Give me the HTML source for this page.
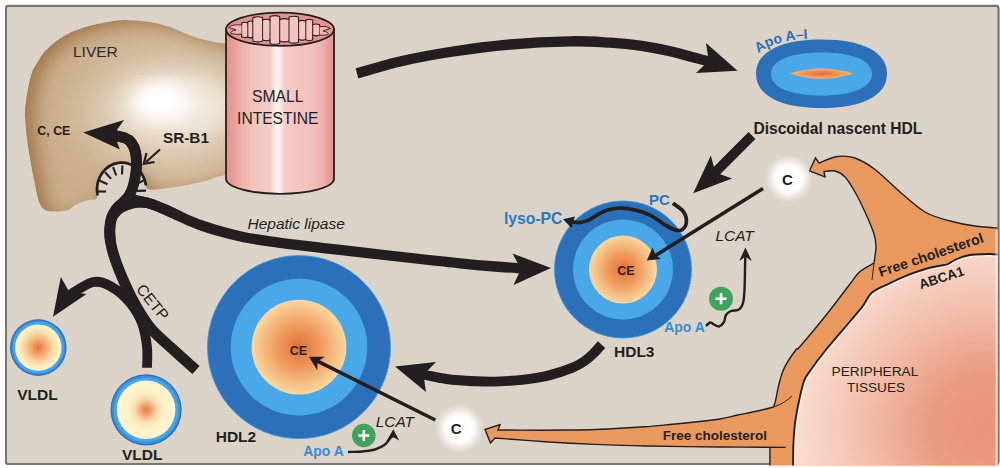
<!DOCTYPE html>
<html><head><meta charset="utf-8"><title>HDL metabolism</title>
<style>
html,body{margin:0;padding:0;background:#fff;}
svg{display:block;}
text{font-family:"Liberation Sans",sans-serif;}
.b{font-weight:bold;}
.i{font-style:italic;}
</style></head><body>
<svg width="1000" height="468" viewBox="0 0 1000 468">
<defs>
<radialGradient id="core" cx="50%" cy="50%" r="50%">
<stop offset="0" stop-color="#e2703a"/><stop offset="0.45" stop-color="#ee9a5c"/><stop offset="1" stop-color="#fbd7a0"/>
</radialGradient>
<radialGradient id="vcore" cx="50%" cy="50%" r="50%">
<stop offset="0" stop-color="#e8793c"/><stop offset="0.16" stop-color="#f0a06a"/><stop offset="0.4" stop-color="#fadcae"/><stop offset="0.62" stop-color="#fdf1c8"/><stop offset="1" stop-color="#fdf6d0"/>
</radialGradient>
<radialGradient id="vcore1" cx="50%" cy="50%" r="50%">
<stop offset="0" stop-color="#e8753a"/><stop offset="0.3" stop-color="#f2a46c"/><stop offset="0.6" stop-color="#f9d3a0"/><stop offset="0.85" stop-color="#fdeec2"/><stop offset="1" stop-color="#fdf3c8"/>
</radialGradient>
<radialGradient id="lens" cx="50%" cy="50%" r="50%">
<stop offset="0" stop-color="#e4683a"/><stop offset="1" stop-color="#f7b575"/>
</radialGradient>
<radialGradient id="glow" cx="50%" cy="50%" r="50%">
<stop offset="0" stop-color="#fff"/><stop offset="0.48" stop-color="#fff"/><stop offset="0.62" stop-color="#fff" stop-opacity="0.85"/><stop offset="0.8" stop-color="#fff" stop-opacity="0.4"/><stop offset="1" stop-color="#fff" stop-opacity="0"/>
</radialGradient>
<linearGradient id="cyl" x1="0" x2="1" y1="0" y2="0">
<stop offset="0" stop-color="#e68f8d"/><stop offset="0.06" stop-color="#e99a97"/><stop offset="0.17" stop-color="#f0b6b0"/><stop offset="0.25" stop-color="#f3c2bc"/>
<stop offset="0.41" stop-color="#f5cbc6"/><stop offset="0.45" stop-color="#fbe9e5"/><stop offset="0.475" stop-color="#fffaf8"/><stop offset="0.5" stop-color="#fbe9e5"/>
<stop offset="0.55" stop-color="#f5cbc6"/><stop offset="0.8" stop-color="#f2c0ba"/><stop offset="0.9" stop-color="#efb0ab"/><stop offset="1" stop-color="#e68f8d"/>
</linearGradient>
<radialGradient id="tissue" cx="985" cy="428" r="222" gradientUnits="userSpaceOnUse">
<stop offset="0" stop-color="#e8957a"/><stop offset="0.25" stop-color="#ea9c82"/><stop offset="0.55" stop-color="#f2bfac"/><stop offset="0.85" stop-color="#f9ddd1"/><stop offset="1" stop-color="#fbe7de"/>
</radialGradient>
<linearGradient id="fade" x1="0" x2="1" y1="0" y2="0"><stop offset="0" stop-color="#fff" stop-opacity="0"/><stop offset="1" stop-color="#fff" stop-opacity="0.75"/></linearGradient>
<clipPath id="orclip"><rect x="6" y="6" width="991.7" height="459.6"/></clipPath>
<filter id="blur8" x="-20%" y="-20%" width="140%" height="140%"><feGaussianBlur stdDeviation="9"/></filter>
<filter id="blur12" x="-50%" y="-50%" width="200%" height="200%"><feGaussianBlur stdDeviation="11"/></filter>
<filter id="blur6" x="-20%" y="-20%" width="140%" height="140%"><feGaussianBlur stdDeviation="6"/></filter>
<filter id="blur20" x="-50%" y="-50%" width="200%" height="200%"><feGaussianBlur stdDeviation="20"/></filter>
<filter id="blur5" x="-50%" y="-50%" width="200%" height="200%"><feGaussianBlur stdDeviation="5"/></filter>
<clipPath id="panelclip"><rect x="6" y="5.9" width="992.4" height="458" rx="2.5"/></clipPath>

<clipPath id="liverclip"><path d="M25.0,117.0 C24.8,110.3 25.0,107.0 26.0,100.0 C27.0,93.0 29.1,81.3 31.0,75.0 C32.9,68.7 35.0,66.2 37.5,62.0 C40.0,57.8 41.9,54.2 46.0,50.0 C50.1,45.8 56.0,40.7 62.0,37.0 C68.0,33.3 74.5,30.5 82.0,28.0 C89.5,25.5 99.8,23.3 107.0,22.0 C114.2,20.7 117.8,20.0 125.0,20.0 C132.2,20.0 142.5,20.8 150.0,22.0 C157.5,23.2 163.8,25.0 170.0,27.0 C176.2,29.0 181.2,31.8 187.0,34.0 C192.8,36.2 198.7,38.4 205.0,40.0 C211.3,41.6 218.3,42.7 225.0,43.5 C231.7,44.3 240.8,35.6 245.0,45.0 C249.2,54.4 249.3,80.8 250.0,100.0 C250.7,119.2 250.3,148.0 249.0,160.0 C247.7,172.0 245.5,169.6 242.0,172.0 C238.5,174.4 232.5,173.4 228.0,174.3 C223.5,175.2 218.8,176.4 215.0,177.5 C211.2,178.6 211.7,179.4 205.0,181.0 C198.3,182.6 184.8,185.7 175.0,187.0 C165.2,188.3 151.2,191.0 146.0,189.0 C140.8,187.0 146.3,179.0 144.0,175.0 C141.7,171.0 136.0,167.0 132.0,165.0 C128.0,163.0 124.3,162.5 120.0,163.0 C115.7,163.5 109.8,164.8 106.0,168.0 C102.2,171.2 98.5,177.0 97.0,182.0 C95.5,187.0 98.5,195.0 97.0,198.0 C95.5,201.0 91.7,198.8 88.0,200.0 C84.3,201.2 78.3,203.3 75.0,205.0 C71.7,206.7 71.3,208.9 68.0,210.0 C64.7,211.1 58.8,211.5 55.0,211.5 C51.2,211.5 47.7,211.6 45.0,210.0 C42.3,208.4 40.7,206.2 39.0,202.0 C37.3,197.8 36.3,191.2 35.0,185.0 C33.7,178.8 32.3,172.5 31.0,165.0 C29.7,157.5 28.0,148.0 27.0,140.0 C26.0,132.0 25.2,123.7 25.0,117.0Z"/></clipPath>
</defs>
<rect x="5" y="4.8" width="994.4" height="460.1" rx="3.2" fill="#7a7672"/>
<rect x="7" y="6.9" width="991" height="456.8" rx="1.6" fill="#dbd3c8"/>
<clipPath id="liverclip"><path d="M25.0,117.0 C24.8,110.3 25.0,107.0 26.0,100.0 C27.0,93.0 29.1,81.3 31.0,75.0 C32.9,68.7 35.0,66.2 37.5,62.0 C40.0,57.8 41.9,54.2 46.0,50.0 C50.1,45.8 56.0,40.7 62.0,37.0 C68.0,33.3 74.5,30.5 82.0,28.0 C89.5,25.5 99.8,23.3 107.0,22.0 C114.2,20.7 117.8,20.0 125.0,20.0 C132.2,20.0 142.5,20.8 150.0,22.0 C157.5,23.2 163.8,25.0 170.0,27.0 C176.2,29.0 181.2,31.8 187.0,34.0 C192.8,36.2 198.7,38.4 205.0,40.0 C211.3,41.6 218.3,42.7 225.0,43.5 C231.7,44.3 240.8,35.6 245.0,45.0 C249.2,54.4 249.3,80.8 250.0,100.0 C250.7,119.2 250.3,148.0 249.0,160.0 C247.7,172.0 245.5,169.6 242.0,172.0 C238.5,174.4 232.5,173.4 228.0,174.3 C223.5,175.2 218.8,176.4 215.0,177.5 C211.2,178.6 211.7,179.4 205.0,181.0 C198.3,182.6 184.8,185.7 175.0,187.0 C165.2,188.3 151.2,191.0 146.0,189.0 C140.8,187.0 146.3,179.0 144.0,175.0 C141.7,171.0 136.0,167.0 132.0,165.0 C128.0,163.0 124.3,162.5 120.0,163.0 C115.7,163.5 109.8,164.8 106.0,168.0 C102.2,171.2 98.5,177.0 97.0,182.0 C95.5,187.0 98.5,195.0 97.0,198.0 C95.5,201.0 91.7,198.8 88.0,200.0 C84.3,201.2 78.3,203.3 75.0,205.0 C71.7,206.7 71.3,208.9 68.0,210.0 C64.7,211.1 58.8,211.5 55.0,211.5 C51.2,211.5 47.7,211.6 45.0,210.0 C42.3,208.4 40.7,206.2 39.0,202.0 C37.3,197.8 36.3,191.2 35.0,185.0 C33.7,178.8 32.3,172.5 31.0,165.0 C29.7,157.5 28.0,148.0 27.0,140.0 C26.0,132.0 25.2,123.7 25.0,117.0Z"/></clipPath>
</defs>
<rect x="6" y="5.9" width="992.4" height="458" rx="2.5" fill="#dbd3c8" stroke="#7a7672" stroke-width="2"/>
<g clip-path="url(#liverclip)">
<path d="M25.0,117.0 C24.8,110.3 25.0,107.0 26.0,100.0 C27.0,93.0 29.1,81.3 31.0,75.0 C32.9,68.7 35.0,66.2 37.5,62.0 C40.0,57.8 41.9,54.2 46.0,50.0 C50.1,45.8 56.0,40.7 62.0,37.0 C68.0,33.3 74.5,30.5 82.0,28.0 C89.5,25.5 99.8,23.3 107.0,22.0 C114.2,20.7 117.8,20.0 125.0,20.0 C132.2,20.0 142.5,20.8 150.0,22.0 C157.5,23.2 163.8,25.0 170.0,27.0 C176.2,29.0 181.2,31.8 187.0,34.0 C192.8,36.2 198.7,38.4 205.0,40.0 C211.3,41.6 218.3,42.7 225.0,43.5 C231.7,44.3 240.8,35.6 245.0,45.0 C249.2,54.4 249.3,80.8 250.0,100.0 C250.7,119.2 250.3,148.0 249.0,160.0 C247.7,172.0 245.5,169.6 242.0,172.0 C238.5,174.4 232.5,173.4 228.0,174.3 C223.5,175.2 218.8,176.4 215.0,177.5 C211.2,178.6 211.7,179.4 205.0,181.0 C198.3,182.6 184.8,185.7 175.0,187.0 C165.2,188.3 151.2,191.0 146.0,189.0 C140.8,187.0 146.3,179.0 144.0,175.0 C141.7,171.0 136.0,167.0 132.0,165.0 C128.0,163.0 124.3,162.5 120.0,163.0 C115.7,163.5 109.8,164.8 106.0,168.0 C102.2,171.2 98.5,177.0 97.0,182.0 C95.5,187.0 98.5,195.0 97.0,198.0 C95.5,201.0 91.7,198.8 88.0,200.0 C84.3,201.2 78.3,203.3 75.0,205.0 C71.7,206.7 71.3,208.9 68.0,210.0 C64.7,211.1 58.8,211.5 55.0,211.5 C51.2,211.5 47.7,211.6 45.0,210.0 C42.3,208.4 40.7,206.2 39.0,202.0 C37.3,197.8 36.3,191.2 35.0,185.0 C33.7,178.8 32.3,172.5 31.0,165.0 C29.7,157.5 28.0,148.0 27.0,140.0 C26.0,132.0 25.2,123.7 25.0,117.0Z" fill="#a2764a"/>
<path d="M25.0,117.0 C24.8,110.3 25.0,107.0 26.0,100.0 C27.0,93.0 29.1,81.3 31.0,75.0 C32.9,68.7 35.0,66.2 37.5,62.0 C40.0,57.8 41.9,54.2 46.0,50.0 C50.1,45.8 56.0,40.7 62.0,37.0 C68.0,33.3 74.5,30.5 82.0,28.0 C89.5,25.5 99.8,23.3 107.0,22.0 C114.2,20.7 117.8,20.0 125.0,20.0 C132.2,20.0 142.5,20.8 150.0,22.0 C157.5,23.2 163.8,25.0 170.0,27.0 C176.2,29.0 181.2,31.8 187.0,34.0 C192.8,36.2 198.7,38.4 205.0,40.0 C211.3,41.6 218.3,42.7 225.0,43.5 C231.7,44.3 240.8,35.6 245.0,45.0 C249.2,54.4 249.3,80.8 250.0,100.0 C250.7,119.2 250.3,148.0 249.0,160.0 C247.7,172.0 245.5,169.6 242.0,172.0 C238.5,174.4 232.5,173.4 228.0,174.3 C223.5,175.2 218.8,176.4 215.0,177.5 C211.2,178.6 211.7,179.4 205.0,181.0 C198.3,182.6 184.8,185.7 175.0,187.0 C165.2,188.3 151.2,191.0 146.0,189.0 C140.8,187.0 146.3,179.0 144.0,175.0 C141.7,171.0 136.0,167.0 132.0,165.0 C128.0,163.0 124.3,162.5 120.0,163.0 C115.7,163.5 109.8,164.8 106.0,168.0 C102.2,171.2 98.5,177.0 97.0,182.0 C95.5,187.0 98.5,195.0 97.0,198.0 C95.5,201.0 91.7,198.8 88.0,200.0 C84.3,201.2 78.3,203.3 75.0,205.0 C71.7,206.7 71.3,208.9 68.0,210.0 C64.7,211.1 58.8,211.5 55.0,211.5 C51.2,211.5 47.7,211.6 45.0,210.0 C42.3,208.4 40.7,206.2 39.0,202.0 C37.3,197.8 36.3,191.2 35.0,185.0 C33.7,178.8 32.3,172.5 31.0,165.0 C29.7,157.5 28.0,148.0 27.0,140.0 C26.0,132.0 25.2,123.7 25.0,117.0Z" fill="#c9ae8a" filter="url(#blur8)" transform="translate(9,4)"/>
<ellipse cx="168" cy="112" rx="86" ry="58" fill="#e0d0ba" filter="url(#blur20)"/>
<ellipse cx="176" cy="106" rx="56" ry="32" fill="#f1e8dc" filter="url(#blur12)"/>
<ellipse cx="162" cy="102" rx="29" ry="19" fill="#ffffff" filter="url(#blur8)"/>
<ellipse cx="156" cy="100" rx="14" ry="10" fill="#ffffff" filter="url(#blur5)"/>
</g>
<g clip-path="url(#orclip)">
<path d="M819.0,163.0 C822.1,161.9 831.5,157.3 837.5,156.5 C843.5,155.7 848.8,155.8 855.0,158.0 C861.2,160.2 867.5,163.8 875.0,169.5 C882.5,175.2 891.7,184.9 900.0,192.0 C908.3,199.1 916.7,207.2 925.0,212.0 C933.3,216.8 941.7,218.7 950.0,221.0 C958.3,223.3 966.2,224.8 975.0,226.0 C983.8,227.2 998.3,228.1 1003.0,228.5 L1003,470 L770,470 C770.0,466.2 769.8,454.1 770.0,447.4 C770.2,440.7 770.4,436.7 771.0,430.0 C771.6,423.3 773.0,411.9 773.8,407.0 C774.6,402.1 774.7,404.4 775.6,400.4 C776.5,396.3 777.8,388.2 779.3,382.7 C780.8,377.2 781.7,373.1 784.4,367.6 C787.1,362.2 793.1,353.5 795.7,350.0 C798.3,346.5 795.1,352.1 800.0,346.5 C804.9,340.9 816.7,326.9 825.0,316.5 C833.3,306.1 844.2,291.5 850.0,284.0 C855.8,276.5 856.0,275.0 860.0,271.5 C864.0,268.0 871.7,264.4 874.0,263.0 C874.3,260.2 876.0,251.3 876.0,246.5 C876.0,241.7 875.8,239.8 874.0,234.0 C872.2,228.2 868.2,219.0 865.0,212.0 C861.8,205.0 858.3,197.8 855.0,192.0 C851.7,186.2 848.3,180.5 845.0,177.0 C841.7,173.5 838.5,171.9 835.0,171.0 C831.5,170.1 825.8,171.4 824.0,171.5 L825,177 L809.5,170.8 L815.5,158 Z" fill="#e9995d" stroke="#231f20" stroke-width="1.4" stroke-linejoin="miter"/>
<path d="M773.8,407 C772.0,407.4 766.9,408.8 763.0,409.7 C759.1,410.6 754.6,411.6 750.4,412.5 C746.2,413.4 742.9,413.9 737.8,415.0 C732.7,416.1 727.1,417.8 720.0,419.0 C712.9,420.2 703.3,421.1 695.0,422.0 C686.7,422.9 678.3,423.7 670.0,424.5 C661.7,425.3 653.3,426.2 645.0,426.8 C636.7,427.4 628.3,427.9 620.0,428.3 C611.7,428.8 603.3,429.2 595.0,429.5 C586.7,429.8 579.2,429.9 570.0,430.0 C560.8,430.1 552.0,430.2 540.0,430.2 C528.0,430.2 505.0,430.0 498.0,430.0 L500,424.5 L485,429.5 L490.5,443 L495,438 C503.3,438.6 528.3,440.6 545.0,441.7 C561.7,442.8 578.3,443.7 595.0,444.4 C611.7,445.1 624.2,445.6 645.0,446.0 C665.8,446.4 696.6,446.8 720.0,447.0 C743.4,447.2 774.7,447.3 785.6,447.4 L800,447.4 L800,395 Z" fill="#e9995d"/>
<path d="M773.8,407 C772.0,407.4 766.9,408.8 763.0,409.7 C759.1,410.6 754.6,411.6 750.4,412.5 C746.2,413.4 742.9,413.9 737.8,415.0 C732.7,416.1 727.1,417.8 720.0,419.0 C712.9,420.2 703.3,421.1 695.0,422.0 C686.7,422.9 678.3,423.7 670.0,424.5 C661.7,425.3 653.3,426.2 645.0,426.8 C636.7,427.4 628.3,427.9 620.0,428.3 C611.7,428.8 603.3,429.2 595.0,429.5 C586.7,429.8 579.2,429.9 570.0,430.0 C560.8,430.1 552.0,430.2 540.0,430.2 C528.0,430.2 505.0,430.0 498.0,430.0 L500,424.5 L485,429.5 L490.5,443 L495,438 C503.3,438.6 528.3,440.6 545.0,441.7 C561.7,442.8 578.3,443.7 595.0,444.4 C611.7,445.1 624.2,445.6 645.0,446.0 C665.8,446.4 696.6,446.8 720.0,447.0 C743.4,447.2 774.7,447.3 785.6,447.4" fill="none" stroke="#231f20" stroke-width="1.4" stroke-linejoin="miter"/>
<path d="M874,263 Q873,272 872,280" stroke="#231f20" stroke-width="1" fill="none"/>
<path d="M773.8,407 Q786,402.5 792,395.8" stroke="#231f20" stroke-width="1" fill="none"/>
<clipPath id="tclip"><path d="M1003.0,255.0 C1000.8,254.8 994.7,254.1 990.0,254.0 C985.3,253.9 979.1,254.2 975.0,254.5 C970.9,254.8 968.6,255.2 965.4,256.0 C962.2,256.8 958.7,258.2 955.8,259.5 C952.9,260.8 950.6,262.9 948.0,264.0 C945.4,265.1 943.5,265.1 940.0,265.8 C936.5,266.6 932.3,266.9 926.9,268.5 C921.5,270.1 914.1,272.6 907.7,275.2 C901.3,277.8 894.5,280.9 888.5,283.8 C882.5,286.7 876.3,288.7 872.0,292.5 C867.7,296.3 866.2,301.7 862.5,306.5 C858.8,311.3 856.2,314.1 850.0,321.5 C843.8,328.9 831.7,342.8 825.0,351.0 C818.3,359.2 813.5,366.0 810.0,371.0 C806.5,376.0 805.8,376.0 804.0,381.0 C802.2,386.0 800.5,393.9 799.0,401.0 C797.5,408.1 796.0,415.8 795.0,423.5 C794.0,431.2 793.6,439.2 793.3,447.0 C793.0,454.8 793.2,466.2 793.2,470.0 L1003,470 Z"/></clipPath>
<path d="M1003.0,255.0 C1000.8,254.8 994.7,254.1 990.0,254.0 C985.3,253.9 979.1,254.2 975.0,254.5 C970.9,254.8 968.6,255.2 965.4,256.0 C962.2,256.8 958.7,258.2 955.8,259.5 C952.9,260.8 950.6,262.9 948.0,264.0 C945.4,265.1 943.5,265.1 940.0,265.8 C936.5,266.6 932.3,266.9 926.9,268.5 C921.5,270.1 914.1,272.6 907.7,275.2 C901.3,277.8 894.5,280.9 888.5,283.8 C882.5,286.7 876.3,288.7 872.0,292.5 C867.7,296.3 866.2,301.7 862.5,306.5 C858.8,311.3 856.2,314.1 850.0,321.5 C843.8,328.9 831.7,342.8 825.0,351.0 C818.3,359.2 813.5,366.0 810.0,371.0 C806.5,376.0 805.8,376.0 804.0,381.0 C802.2,386.0 800.5,393.9 799.0,401.0 C797.5,408.1 796.0,415.8 795.0,423.5 C794.0,431.2 793.6,439.2 793.3,447.0 C793.0,454.8 793.2,466.2 793.2,470.0 L1003,470 Z" fill="url(#tissue)"/>
<path d="M1003.0,255.0 C1000.8,254.8 994.7,254.1 990.0,254.0 C985.3,253.9 979.1,254.2 975.0,254.5 C970.9,254.8 968.6,255.2 965.4,256.0 C962.2,256.8 958.7,258.2 955.8,259.5 C952.9,260.8 950.6,262.9 948.0,264.0 C945.4,265.1 943.5,265.1 940.0,265.8 C936.5,266.6 932.3,266.9 926.9,268.5 C921.5,270.1 914.1,272.6 907.7,275.2 C901.3,277.8 894.5,280.9 888.5,283.8 C882.5,286.7 876.3,288.7 872.0,292.5 C867.7,296.3 866.2,301.7 862.5,306.5 C858.8,311.3 856.2,314.1 850.0,321.5 C843.8,328.9 831.7,342.8 825.0,351.0 C818.3,359.2 813.5,366.0 810.0,371.0 C806.5,376.0 805.8,376.0 804.0,381.0 C802.2,386.0 800.5,393.9 799.0,401.0 C797.5,408.1 796.0,415.8 795.0,423.5 C794.0,431.2 793.6,439.2 793.3,447.0 C793.0,454.8 793.2,466.2 793.2,470.0 L1003,470 Z" fill="none" stroke="#fff" stroke-opacity="0.55" stroke-width="5" clip-path="url(#tclip)"/>
<path d="M1003.0,255.0 C1000.8,254.8 994.7,254.1 990.0,254.0 C985.3,253.9 979.1,254.2 975.0,254.5 C970.9,254.8 968.6,255.2 965.4,256.0 C962.2,256.8 958.7,258.2 955.8,259.5 C952.9,260.8 950.6,262.9 948.0,264.0 C945.4,265.1 943.5,265.1 940.0,265.8 C936.5,266.6 932.3,266.9 926.9,268.5 C921.5,270.1 914.1,272.6 907.7,275.2 C901.3,277.8 894.5,280.9 888.5,283.8 C882.5,286.7 876.3,288.7 872.0,292.5 C867.7,296.3 866.2,301.7 862.5,306.5 C858.8,311.3 856.2,314.1 850.0,321.5 C843.8,328.9 831.7,342.8 825.0,351.0 C818.3,359.2 813.5,366.0 810.0,371.0 C806.5,376.0 805.8,376.0 804.0,381.0 C802.2,386.0 800.5,393.9 799.0,401.0 C797.5,408.1 796.0,415.8 795.0,423.5 C794.0,431.2 793.6,439.2 793.3,447.0 C793.0,454.8 793.2,466.2 793.2,470.0 L1003,470 Z" fill="none" stroke="#231f20" stroke-width="1.9"/>
<rect x="994.3" y="229.5" width="3.4" height="240" fill="url(#fade)"/>
</g>
<g>
<path d="M226,29.5 L226,178.8 A54,15 0 0 0 334,178.8 L334,29.5 Z" fill="url(#cyl)" stroke="#231f20" stroke-width="1.8"/>
<ellipse cx="280" cy="29.3" rx="54" ry="16.6" fill="#e8918e" stroke="#231f20" stroke-width="1.8"/>
<path d="M241.6,36.8 L241.6,23 L241.6,23 Q244.7,21.4 247.8,23 L247.8,21.8 Q250.3,20.2 252.8,21.8 L252.8,17.6 Q257.7,16 262.6,17.6 L262.6,20 Q266.3,18.4 270,20 L270,16.4 Q274.85,14.8 279.7,16.4 L279.7,19.4 Q284.35,17.8 289,19.4 L289,17 Q293.8,15.4 298.6,17 L298.6,21.2 Q302.2,19.6 305.8,21.2 L305.8,20 Q309.25,18.4 312.7,20 L312.7,24.8 Q316.15,23.2 319.6,24.8 L319.6,35 Q316.15,36.8 312.7,35 L312.7,39.8 Q309.25,41.6 305.8,39.8 L305.8,39.2 Q302.2,41 298.6,39.2 L298.6,42.2 Q293.8,44 289,42.2 L289,41 Q284.35,42.8 279.7,41 L279.7,43.4 Q274.85,45.2 270,43.4 L270,39.8 Q266.3,41.6 262.6,39.8 L262.6,41 Q257.7,42.8 252.8,41 L252.8,37 Q250.3,38.8 247.8,37 L247.8,36.8 Q244.7,38.6 241.6,36.8 Z" fill="#f4c3bd" stroke="#231f20" stroke-width="1.1" stroke-linejoin="round"/>
<path d="M247.8,23 L247.8,36.8" stroke="#231f20" stroke-width="1" fill="none"/>
<path d="M252.8,21.8 L252.8,37" stroke="#231f20" stroke-width="1" fill="none"/>
<path d="M262.6,20 L262.6,39.8" stroke="#231f20" stroke-width="1" fill="none"/>
<path d="M270,20 L270,39.8" stroke="#231f20" stroke-width="1" fill="none"/>
<path d="M279.7,19.4 L279.7,41" stroke="#231f20" stroke-width="1" fill="none"/>
<path d="M289,19.4 L289,41" stroke="#231f20" stroke-width="1" fill="none"/>
<path d="M298.6,21.2 L298.6,39.2" stroke="#231f20" stroke-width="1" fill="none"/>
<path d="M305.8,21.2 L305.8,39.2" stroke="#231f20" stroke-width="1" fill="none"/>
<path d="M312.7,24.8 L312.7,35" stroke="#231f20" stroke-width="1" fill="none"/>
<path d="M241.6,25 Q232,24 228.5,27.5 Q234,29 236,30 Q230,31 231,33.5 Q236,35 241.6,34" fill="#f0b3ae" stroke="#231f20" stroke-width="0.9"/>
<path d="M319.6,26.5 Q327,25.5 330.5,28.5 Q325,30 323,31 Q329,32 328,34.5 Q324,36 319.6,35" fill="#f0b3ae" stroke="#231f20" stroke-width="0.9"/>
</g>
<path d="M357.0,73.5 C364.2,71.5 384.5,65.1 400.0,61.5 C415.5,57.9 431.7,54.8 450.0,52.0 C468.3,49.2 490.0,46.3 510.0,44.5 C530.0,42.7 553.3,41.6 570.0,41.3 C586.7,41.0 598.3,42.0 610.0,42.7 C621.7,43.4 630.0,44.2 640.0,45.6 C650.0,47.0 660.8,49.2 670.0,51.2 C679.2,53.2 687.4,55.8 695.0,57.8 C702.6,59.8 712.3,62.3 715.8,63.2" fill="none" stroke="#231f20" stroke-width="10.3" stroke-linecap="butt" stroke-linejoin="round"/>
<path d="M737.5,70.8 L706.0,43.0 L708.7,60.7 L696.0,73.0 Z" fill="#231f20"/>
<path d="M752.0,135.5 C745.0,142.5 717.0,170.6 710.0,177.6" fill="none" stroke="#231f20" stroke-width="9.7" stroke-linecap="butt" stroke-linejoin="round"/>
<path d="M693.2,193.3 L710.8,155.6 L715.5,172.6 L732.0,178.5 Z" fill="#231f20"/>
<path d="M196.0,370.0 C192.0,366.4 179.5,355.4 172.0,348.5 C164.5,341.6 157.1,335.8 151.0,328.5 C144.9,321.2 139.8,312.4 135.5,305.0 C131.2,297.6 128.4,291.7 125.0,284.0 C121.6,276.3 117.4,266.0 115.0,259.0 C112.6,252.0 111.4,247.0 110.5,242.0 C109.6,237.0 109.6,233.0 109.8,229.0 C110.0,225.0 110.5,221.2 111.5,218.0 C112.5,214.8 114.2,212.0 116.0,209.5 C117.8,207.0 120.4,205.2 122.5,203.0 C124.6,200.8 126.8,199.0 128.5,196.5 C130.2,194.0 131.4,191.1 132.5,188.0 C133.6,184.9 134.3,181.8 135.0,178.0 C135.7,174.2 136.4,169.3 136.5,165.0 C136.6,160.7 136.3,155.7 135.5,152.0 C134.7,148.3 133.2,145.3 131.5,143.0 C129.8,140.7 129.2,139.5 125.0,138.0 C120.8,136.5 109.3,134.6 106.2,133.9" fill="none" stroke="#231f20" stroke-width="10.8" stroke-linecap="butt" stroke-linejoin="round"/>
<path d="M83.2,132.6 L124.0,120.0 L113.9,134.3 L120.0,149.5 Z" fill="#231f20"/>
<path d="M127.0,198.5 C128.9,198.9 134.5,199.9 138.5,200.8 C142.5,201.7 146.8,202.4 151.0,203.8 C155.2,205.2 159.7,207.1 164.0,209.0 C168.3,210.9 172.7,213.0 177.0,215.0 C181.3,217.0 185.7,219.2 190.0,221.0 C194.3,222.8 198.0,224.3 203.0,226.0 C208.0,227.7 213.2,229.4 220.0,231.3 C226.8,233.2 236.0,235.5 244.0,237.2 C252.0,238.8 260.0,240.0 268.0,241.2 C276.0,242.4 284.0,243.3 292.0,244.3 C300.0,245.3 308.0,246.3 316.0,247.2 C324.0,248.1 329.3,248.6 340.0,249.8 C350.7,251.0 366.7,253.0 380.0,254.5 C393.3,256.0 406.7,257.5 420.0,259.0 C433.3,260.5 447.5,262.1 460.0,263.3 C472.5,264.6 483.7,265.6 495.0,266.5 C506.3,267.4 522.5,268.4 528.0,268.8" fill="none" stroke="#231f20" stroke-width="10.3" stroke-linecap="butt" stroke-linejoin="round"/>
<path d="M551.0,268.0 L512.5,253.5 L521.0,269.0 L513.5,285.0 Z" fill="#231f20"/>
<path d="M110.5,242.0 C110.4,239.8 109.5,232.9 109.8,229.0 C110.0,225.1 110.6,221.6 112.0,218.5 C113.4,215.4 115.5,212.7 118.0,210.5 C120.5,208.3 123.6,206.8 127.0,205.5 C130.4,204.2 134.5,203.2 138.5,203.0 C142.5,202.8 146.8,203.2 151.0,204.2 C155.2,205.2 161.8,208.2 164.0,209.0" fill="none" stroke="#231f20" stroke-width="9" stroke-linecap="butt" stroke-linejoin="round"/>
<path d="M147.0,367.8 C147.0,364.3 147.8,354.5 147.0,347.0 C146.2,339.5 144.9,330.5 142.0,323.0 C139.1,315.5 134.6,308.0 129.5,302.0 C124.4,296.0 117.7,290.1 111.5,286.8 C105.3,283.5 100.1,280.5 92.5,282.3 C84.9,284.1 70.1,295.1 65.7,297.6" fill="none" stroke="#231f20" stroke-width="9.8" stroke-linecap="butt" stroke-linejoin="round"/>
<path d="M53.0,316.8 L60.8,277.0 L69.3,292.1 L86.5,294.0 Z" fill="#231f20"/>
<path d="M601.6,344.6 C600.2,346.1 596.4,350.7 593.5,353.5 C590.6,356.3 587.6,359.1 584.0,361.5 C580.4,363.9 578.0,365.4 572.0,367.8 C566.0,370.2 556.0,373.6 548.0,375.6 C540.0,377.6 532.0,378.6 524.0,379.6 C516.0,380.6 508.0,381.1 500.0,381.4 C492.0,381.7 484.0,381.6 476.0,381.3 C468.0,381.0 458.0,380.2 452.0,379.7 C446.0,379.1 443.5,378.6 440.0,378.0 C436.5,377.4 434.2,376.9 431.0,376.2 C427.8,375.5 422.6,374.4 420.9,374.1" fill="none" stroke="#231f20" stroke-width="9.9" stroke-linecap="butt" stroke-linejoin="round"/>
<path d="M395.0,366.5 L436.0,362.0 L423.4,374.8 L426.0,392.0 Z" fill="#231f20"/>
<path d="M97.3,199 L97.3,194 A24.5,26.5 0 0 1 146,185.5 L147,190 L140,201 L100,201 Z" fill="#dbd3c8"/>
<path d="M97.3,195.5 L97.3,193 A24.5,26.5 0 0 1 146,185.5" fill="none" stroke="#231f20" stroke-width="2.8"/>
<path d="M97.0,191.5 L106.0,191.5" stroke="#231f20" stroke-width="2.1"/>
<path d="M99.3,180.5 L107.5,184.3" stroke="#231f20" stroke-width="2.1"/>
<path d="M105.1,172.2 L111.1,178.9" stroke="#231f20" stroke-width="2.1"/>
<path d="M113.1,167.1 L116.2,175.5" stroke="#231f20" stroke-width="2.1"/>
<path d="M122.4,165.5 L122.0,174.5" stroke="#231f20" stroke-width="2.1"/>
<path d="M143.7,180.5 L135.5,184.3" stroke="#231f20" stroke-width="2.1"/>
<path d="M146.0,190.6 L137.0,190.9" stroke="#231f20" stroke-width="2.1"/>
<path d="M110.5,242.0 C110.4,239.8 109.6,233.0 109.8,229.0 C110.0,225.0 110.5,221.2 111.5,218.0 C112.5,214.8 114.2,212.0 116.0,209.5 C117.8,207.0 120.4,205.2 122.5,203.0 C124.6,200.8 126.8,199.0 128.5,196.5 C130.2,194.0 131.4,191.1 132.5,188.0 C133.6,184.9 134.3,181.8 135.0,178.0 C135.7,174.2 136.4,169.3 136.5,165.0 C136.6,160.7 136.3,155.7 135.5,152.0 C134.7,148.3 133.2,145.3 131.5,143.0 C129.8,140.7 129.2,139.5 125.0,138.0 C120.8,136.5 109.3,134.6 106.2,133.9" fill="none" stroke="#231f20" stroke-width="10.8" stroke-linecap="butt" stroke-linejoin="round"/>
<path d="M127.0,198.5 C128.9,198.9 134.5,199.9 138.5,200.8 C142.5,201.7 146.8,202.4 151.0,203.8 C155.2,205.2 159.7,207.1 164.0,209.0 C168.3,210.9 174.8,214.0 177.0,215.0" fill="none" stroke="#231f20" stroke-width="10.3" stroke-linecap="butt" stroke-linejoin="round"/>
<path d="M110.5,242.0 C110.4,239.8 109.5,232.9 109.8,229.0 C110.0,225.1 110.6,221.6 112.0,218.5 C113.4,215.4 115.5,212.7 118.0,210.5 C120.5,208.3 123.6,206.8 127.0,205.5 C130.4,204.2 134.5,203.2 138.5,203.0 C142.5,202.8 146.8,203.2 151.0,204.2 C155.2,205.2 161.8,208.2 164.0,209.0" fill="none" stroke="#231f20" stroke-width="9" stroke-linecap="butt" stroke-linejoin="round"/>
<path d="M160,149.5 L146,162" stroke="#231f20" stroke-width="2.2" fill="none"/>
<path d="M146.5,153 L143.8,163.8 L154.5,162" stroke="#231f20" stroke-width="2.2" fill="none"/>
<circle cx="623" cy="269.5" r="68.5" fill="#2b70b8" stroke="#3f95dc" stroke-width="0.9"/>
<circle cx="623" cy="269.5" r="50" fill="#49a9e8"/>
<circle cx="623" cy="269.5" r="34" fill="url(#core)"/>
<circle cx="299" cy="347.1" r="91.5" fill="#2b70b8" stroke="#3f95dc" stroke-width="0.9"/>
<circle cx="299" cy="347.1" r="68.3" fill="#49a9e8"/>
<circle cx="299" cy="347.1" r="47.4" fill="url(#core)"/>
<path d="M756,73.8 C756,52.191 780.235,39.5 821.5,39.5 C862.765,39.5 887,52.191 887,73.8 C887,95.409 862.765,108.1 821.5,108.1 C780.235,108.1 756,95.409 756,73.8 Z" fill="#2b70b8"/>
<path d="M771,74 C771,60.67 790.19,52.5 821.5,52.5 C852.81,52.5 872,60.67 872,74 C872,87.33 852.81,95.5 821.5,95.5 C790.19,95.5 771,87.33 771,74 Z" fill="#49a9e8"/>
<path d="M789.5,73.5 Q821.5,63.5 853.5,73.5 Q821.5,84 789.5,73.5 Z" fill="url(#lens)"/>
<circle cx="38.3" cy="347.6" r="28.3" fill="#2b70b8"/>
<circle cx="38.3" cy="347.6" r="27.1" fill="#3a8fd8"/>
<circle cx="38.3" cy="347.6" r="25.495" fill="#4aa6e8"/>
<circle cx="38.3" cy="347.6" r="23.2" fill="url(#vcore1)"/>
<circle cx="146.1" cy="409.8" r="35.6" fill="#2b70b8"/>
<circle cx="146.1" cy="409.8" r="34.4" fill="#3a8fd8"/>
<circle cx="146.1" cy="409.8" r="32.135" fill="#4aa6e8"/>
<circle cx="146.1" cy="409.8" r="29.3" fill="url(#vcore)"/>
<circle cx="788.8" cy="178.6" r="23.8" fill="url(#glow)"/>
<circle cx="459.5" cy="428.6" r="24.3" fill="url(#glow)"/>
<path d="M763,188.5 L653,257" fill="none" stroke="#231f20" stroke-width="3.6" stroke-linecap="butt" stroke-linejoin="miter"/>
<path d="M646.8,260.5 L652.6,247.6 L655.6,255.2 L661.2,259 Z" fill="#231f20"/>
<path d="M435.3,420 L314.5,359.6" fill="none" stroke="#231f20" stroke-width="3.6" stroke-linecap="butt" stroke-linejoin="miter"/>
<path d="M309,356.8 L324.8,356.8 L317.6,361.4 L317.2,370.3 Z" fill="#231f20"/>
<path d="M672.9,203.2 C674.6,204.6 681.0,208.3 683.2,211.4 C685.5,214.5 686.6,218.9 686.4,222.0 C686.2,225.1 684.1,228.4 682.1,229.7 C680.1,231.0 677.6,230.6 674.6,229.7 C671.6,228.8 667.8,226.5 663.9,224.2 C660.0,221.8 655.7,217.9 651.1,215.6 C646.5,213.3 641.2,211.5 636.2,210.3 C631.2,209.1 625.8,208.3 621.2,208.2 C616.6,208.1 612.3,208.6 608.4,209.7 C604.5,210.8 600.9,212.9 597.7,214.6 C594.5,216.3 592.0,218.6 589.1,219.9 C586.2,221.2 583.5,222.2 580.6,222.5 C577.8,222.8 573.4,222.1 572.0,222.0" fill="none" stroke="#231f20" stroke-width="3.7" stroke-linecap="butt" stroke-linejoin="miter"/>
<path d="M563,219.3 L575,216.6 L573.2,221.8 L571.5,228 Z" fill="#231f20"/>
<path d="M706.0,326.0 C706.7,325.4 708.7,322.8 710.0,322.5 C711.3,322.2 712.5,323.8 714.0,324.5 C715.5,325.2 717.3,326.9 719.0,326.5 C720.7,326.1 722.8,323.9 724.0,322.0 C725.2,320.1 724.8,316.8 726.0,315.0 C727.2,313.2 728.8,311.9 731.0,311.0 C733.2,310.1 737.0,310.8 739.0,309.5 C741.0,308.2 742.1,306.2 743.0,303.0 C743.9,299.8 744.2,295.5 744.5,290.0 C744.8,284.5 744.9,275.8 745.0,270.0 C745.1,264.2 745.3,257.5 745.4,255.0" fill="none" stroke="#231f20" stroke-width="2.4" stroke-linecap="butt" stroke-linejoin="miter"/>
<path d="M745.4,247.5 L739.2,261 L745.4,256.8 L751.8,261 Z" fill="#231f20"/>
<path d="M348.0,452.0 C350.3,451.9 357.5,451.9 362.0,451.5 C366.5,451.1 371.2,450.7 375.0,449.5 C378.8,448.3 382.3,446.6 385.0,444.5 C387.7,442.4 389.6,438.8 391.0,437.0 C392.4,435.2 393.1,434.5 393.5,434.0" fill="none" stroke="#231f20" stroke-width="2.4" stroke-linecap="butt" stroke-linejoin="miter"/>
<path d="M393.3,429.3 L386.4,441.2 L393.6,437.2 L399.2,440.6 Z" fill="#231f20"/>
<circle cx="721" cy="298.8" r="12" fill="#3fa35b"/>
<path d="M715.5,298.8 h11 M721,293.3 v11" stroke="#fff" stroke-width="2.6" fill="none"/>
<circle cx="363.8" cy="435.5" r="11.8" fill="#3fa35b"/>
<path d="M358.3,435.5 h11 M363.8,430 v11" stroke="#fff" stroke-width="2.6" fill="none"/>
<text x="73" y="56.7" font-size="15.5" class="" fill="#2e2a26" text-anchor="start">LIVER</text>
<text x="277.8" y="102.1" font-size="15.7" class="" fill="#231f20" text-anchor="middle">SMALL</text>
<text x="277.8" y="124.1" font-size="15.6" class="" fill="#231f20" text-anchor="middle">INTESTINE</text>
<text x="37.3" y="135" font-size="12.4" class="b" fill="#231f20" text-anchor="start">C, CE</text>
<text x="163" y="143.2" font-size="15.3" class="b" fill="#231f20" text-anchor="start">SR-B1</text>
<text x="247.5" y="228.8" font-size="15.5" class="i" fill="#231f20" text-anchor="start">Hepatic lipase</text>
<text x="753.4" y="133.9" font-size="15.6" class="b" fill="#231f20" text-anchor="start">Discoidal nascent HDL</text>
<text x="787.4" y="184.6" font-size="15.1" class="b" fill="#231f20" text-anchor="middle">C</text>
<text x="456.3" y="433.6" font-size="15.1" class="b" fill="#231f20" text-anchor="middle">C</text>
<text x="649" y="205" font-size="15" class="b" fill="#2c78c3" text-anchor="start">PC</text>
<text x="504" y="223.6" font-size="15.7" class="b" fill="#2c78c3" text-anchor="start">lyso-PC</text>
<text x="626" y="275" font-size="12.5" class="b" fill="#2b2422" text-anchor="middle">CE</text>
<text x="298.5" y="355" font-size="12.5" class="b" fill="#2b2422" text-anchor="middle">CE</text>
<text x="715.5" y="241.4" font-size="15.4" class="i" fill="#231f20" text-anchor="start">LCAT</text>
<text x="375.8" y="427" font-size="15.4" class="i" fill="#231f20" text-anchor="start">LCAT</text>
<text x="664.3" y="332" font-size="13.9" class="b" fill="#3a8cd2" text-anchor="start">Apo A</text>
<text x="303.3" y="456" font-size="13.9" class="b" fill="#3a8cd2" text-anchor="start">Apo A</text>
<text x="614" y="357.3" font-size="15.5" class="b" fill="#231f20" text-anchor="start">HDL3</text>
<text x="215.7" y="442.3" font-size="15.5" class="b" fill="#231f20" text-anchor="start">HDL2</text>
<text x="17.2" y="400" font-size="15.5" class="b" fill="#231f20" text-anchor="start">VLDL</text>
<text x="122" y="460" font-size="15.5" class="b" fill="#231f20" text-anchor="start">VLDL</text>
<text x="831.6" y="376.3" font-size="13.7" class="" fill="#231f20" text-anchor="start">PERIPHERAL</text>
<text x="847" y="391.7" font-size="13.55" class="" fill="#231f20" text-anchor="start">TISSUES</text>
<text x="662.7" y="439.6" font-size="13.5" class="b" fill="#231f20" text-anchor="start">Free cholesterol</text>
<text font-size="14.2" class="b" fill="#231f20" transform="translate(880.5,277) rotate(-18.6)">Free cholesterol</text>
<text font-size="13.5" class="b" fill="#231f20" transform="translate(920.8,289.3) rotate(-18)">ABCA1</text>
<text font-size="15.5" fill="#231f20" transform="translate(135.5,289.5) rotate(51)">CETP</text>
<path id="apopath" d="M758.5,53.5 Q778,38 816,38.8" fill="none"/>
<text font-size="14" class="b" fill="#2c6fb6"><textPath href="#apopath">Apo A–I</textPath></text>
</svg></body></html>
